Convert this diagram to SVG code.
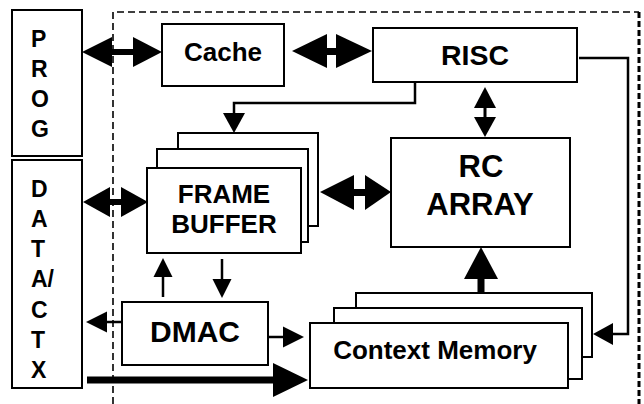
<svg xmlns="http://www.w3.org/2000/svg" width="644" height="404" viewBox="0 0 644 404">
  <style>
    .box { fill: #fff; stroke: #000; stroke-width: 2; }
    .lbl { font-family: "Liberation Sans", Arial, sans-serif; font-weight: bold; fill: #000; }
    .mid { text-anchor: middle; }
    .side { font-size: 23px; }
    .wire { fill: none; stroke: #000; stroke-width: 2.5; }
    .head { fill: #000; stroke: none; }
    .dash-thin { fill: none; stroke: #000; stroke-width: 1.6; stroke-dasharray: 7 4; }
    .dash-thick { fill: none; stroke: #000; stroke-width: 3; stroke-dasharray: 6 3; }
  </style>
  <rect width="644" height="404" fill="#fff"/>

  <!-- chip boundary (open at the bottom) -->
  <g id="boundary">
    <path class="dash-thin" d="M113,404 V12 H639"/>
    <path class="dash-thick" d="M639,12 V404"/>
  </g>

  <g id="prog">
    <rect class="box" x="12" y="10" width="70" height="146"/>
    <text class="lbl side" x="31" y="47">P</text>
    <text class="lbl side" x="31" y="77">R</text>
    <text class="lbl side" x="31" y="107">O</text>
    <text class="lbl side" x="31" y="137">G</text>
  </g>

  <g id="data-ctx">
    <rect class="box" x="12" y="160" width="70" height="228"/>
    <text class="lbl side" x="31" y="197">D</text>
    <text class="lbl side" x="31" y="227">A</text>
    <text class="lbl side" x="31" y="257">T</text>
    <text class="lbl side" x="31" y="287">A/</text>
    <text class="lbl side" x="31" y="318">C</text>
    <text class="lbl side" x="31" y="348">T</text>
    <text class="lbl side" x="31" y="378">X</text>
  </g>

  <g id="cache">
    <rect class="box" x="162" y="24" width="122" height="62"/>
    <text class="lbl mid" font-size="26" x="223" y="61">Cache</text>
  </g>

  <g id="risc">
    <rect class="box" x="373" y="28" width="204" height="54"/>
    <text class="lbl mid" font-size="28.5" x="475" y="65">RISC</text>
  </g>

  <g id="rc-array">
    <rect class="box" x="391" y="138" width="179" height="109"/>
    <text class="lbl mid" font-size="31" x="481" y="177">RC</text>
    <text class="lbl mid" font-size="31" x="480" y="215">ARRAY</text>
  </g>

  <g id="frame-buffer">
    <rect class="box" x="178" y="133" width="140" height="93"/>
    <rect class="box" x="157" y="149" width="151" height="93"/>
    <rect class="box" x="147" y="168" width="154" height="85"/>
    <text class="lbl mid" font-size="26" x="224" y="203">FRAME</text>
    <text class="lbl mid" font-size="26" x="224" y="233">BUFFER</text>
  </g>

  <g id="dmac">
    <rect class="box" x="122" y="302" width="146" height="63"/>
    <text class="lbl mid" font-size="30" x="195" y="342">DMAC</text>
  </g>

  <g id="context-memory">
    <rect class="box" x="356" y="293" width="236" height="64"/>
    <rect class="box" x="334" y="308" width="248" height="71"/>
    <rect class="box" x="310" y="323" width="258" height="65"/>
    <text class="lbl mid" font-size="26" x="435" y="359">Context Memory</text>
  </g>

  <g id="connectors">
    <!-- PROG <-> Cache -->
    <rect class="head" x="111" y="49" width="23" height="6"/>
    <polygon class="head" points="82,52 112,37 112,67"/>
    <polygon class="head" points="162,52 133,37 133,67"/>

    <!-- Cache <-> RISC -->
    <rect class="head" x="326" y="48" width="11" height="7"/>
    <polygon class="head" points="292,51 327,34 327,68"/>
    <polygon class="head" points="372,51 336,34 336,68"/>

    <!-- DATA/CTX <-> Frame Buffer -->
    <rect class="head" x="109" y="199" width="13" height="6"/>
    <polygon class="head" points="83,202 110,187 110,217"/>
    <polygon class="head" points="148,202 121,187 121,217"/>

    <!-- Frame Buffer <-> RC Array -->
    <rect class="head" x="352" y="189" width="14" height="7"/>
    <polygon class="head" points="320,192 354,175 354,210"/>
    <polygon class="head" points="391,192 365,175 365,210"/>

    <!-- RISC <-> RC Array -->
    <rect class="head" x="483.5" y="107" width="3" height="11"/>
    <polygon class="head" points="485,87 474,108 496,108"/>
    <polygon class="head" points="485,137 474,117 496,117"/>

    <!-- RISC -> Frame Buffer -->
    <polyline class="wire" points="415,82 415,103 234,103 234,114"/>
    <polygon class="head" points="234,133 223,113 245,113"/>

    <!-- RISC -> Context Memory -->
    <polyline class="wire" points="579,58 628,58 628,334 612,334"/>
    <polygon class="head" points="593,334 613,323 613,345"/>

    <!-- DMAC -> Frame Buffer -->
    <line class="wire" x1="163" y1="297" x2="163" y2="275"/>
    <polygon class="head" points="163,258 153.5,277 172.5,277"/>

    <!-- Frame Buffer -> DMAC -->
    <line class="wire" x1="222" y1="259" x2="222" y2="281"/>
    <polygon class="head" points="222,298 212.5,279 231.5,279"/>

    <!-- DMAC -> DATA/CTX -->
    <line class="wire" x1="122" y1="322" x2="106" y2="322"/>
    <polygon class="head" points="86,322 107,311.5 107,332.5"/>

    <!-- DMAC -> Context Memory -->
    <line class="wire" x1="268" y1="337" x2="284" y2="337"/>
    <polygon class="head" points="304,337 283,326.5 283,347.5"/>

    <!-- DATA/CTX -> Context Memory (wide bus) -->
    <rect class="head" x="87" y="376.5" width="187" height="7"/>
    <polygon class="head" points="308,380 273,363 273,397"/>

    <!-- Context Memory -> RC Array (wide bus) -->
    <rect class="head" x="477.5" y="278" width="7" height="16"/>
    <polygon class="head" points="481,247 464,279 498,279"/>
  </g>
</svg>
